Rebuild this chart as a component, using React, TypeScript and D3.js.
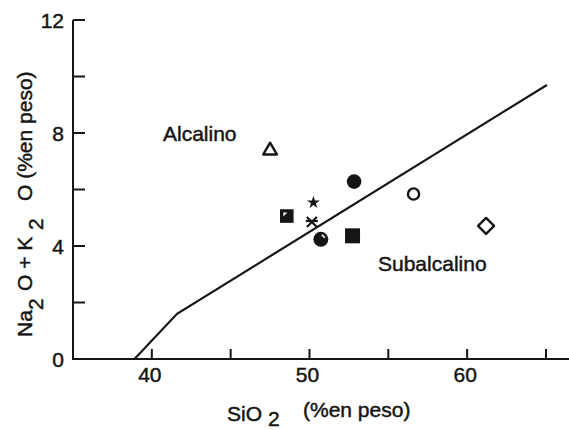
import React from "react";
import * as d3 from "d3";

const W = 569;
const H = 430;

// data
const xTicks = [40, 45, 50, 55, 60, 65];
const xTickLabels = [40, 50, 60];
const yTicks = [0, 2, 4, 6, 8, 10, 12];
const yTickLabels = [0, 4, 8, 12];

const markerTypes = [
  "triangleOpen",
  "circleFilled",
  "circleOpen",
  "star",
  "squareHalf",
  "cross",
  "circleHalf",
  "squareFilled",
  "diamondOpen",
];
const sio2 = [47.5, 52.83, 56.6, 50.25, 48.56, 50.15, 50.72, 52.73, 61.2];
const alk = [7.38, 6.28, 5.84, 5.54, 5.06, 4.85, 4.24, 4.36, 4.71];

const lineSiO2 = [38.9, 41.6, 65.06];
const lineAlk = [0, 1.6, 9.7];

const INK = "#151515";
const FONT = "'Liberation Sans', Arial, Helvetica, sans-serif";

function Marker({ type, cx, cy }: { type: string; cx: number; cy: number }) {
  const sw = 2.4;
  switch (type) {
    case "triangleOpen": {
      const p = d3.symbol(d3.symbolTriangle, 80)();
      return <path d={p || ""} transform={`translate(${cx},${cy})`} fill="none" stroke={INK} strokeWidth={sw} strokeLinejoin="round" />;
    }
    case "circleFilled":
      return <circle cx={cx} cy={cy} r={7.3} fill={INK} />;
    case "circleOpen":
      return <circle cx={cx} cy={cy} r={5.6} fill="none" stroke={INK} strokeWidth={sw} />;
    case "star": {
      const p = d3.symbol(d3.symbolStar, 52)();
      return <path d={p || ""} transform={`translate(${cx},${cy})`} fill={INK} />;
    }
    case "squareHalf":
      return (
        <g>
          <rect x={cx - 6.8} y={cy - 6.8} width={13.6} height={13.6} fill={INK} />
          <path d={`M${cx - 3.5},${cy - 3.5}L${cx + 0.5},${cy - 3.5}L${cx - 3.5},${cy + 0.5}Z`} fill="#fff" />
        </g>
      );
    case "cross":
      return (
        <g stroke={INK} strokeWidth={2.2}>
          <line x1={cx - 5} y1={cy - 5} x2={cx + 5} y2={cy + 5} />
          <line x1={cx + 5} y1={cy - 5} x2={cx - 5} y2={cy + 5} />
          <line x1={cx - 6} y1={cy - 1} x2={cx + 6} y2={cy - 1} />
        </g>
      );
    case "circleHalf":
      return (
        <g>
          <circle cx={cx} cy={cy} r={7.5} fill={INK} />
          <path d={`M${cx + 1},${cy - 4.5}L${cx + 4},${cy - 1.5}`} stroke="#fff" strokeWidth={1.6} />
        </g>
      );
    case "squareFilled":
      return <rect x={cx - 7.5} y={cy - 7.5} width={15} height={15} fill={INK} />;
    case "diamondOpen":
      return (
        <path
          d={`M${cx},${cy - 8}L${cx + 8},${cy}L${cx},${cy + 8}L${cx - 8},${cy}Z`}
          fill="none"
          stroke={INK}
          strokeWidth={sw}
          strokeLinejoin="round"
        />
      );
    default:
      return null;
  }
}

export default function App() {
  const x = d3.scaleLinear().domain([35, 66.46]).range([73, 569]);
  const y = d3.scaleLinear().domain([0, 12]).range([359, 20]);

  const linePts: [number, number][] = lineSiO2.map((v, i) => [v, lineAlk[i]]);
  const lineGen = d3
    .line<[number, number]>()
    .x((d) => x(d[0]))
    .y((d) => y(d[1]));

  const fs = 21;
  const textStyle = { stroke: INK, strokeWidth: 0.45 } as React.CSSProperties;

  return (
    <div style={{ position: "fixed", left: 0, top: 0, width: W, height: H, background: "#fff" }}>
      <svg width={W} height={H} style={{ display: "block" }} fontFamily={FONT}>
        <rect width={W} height={H} fill="#fff" />
        {/* axes */}
        <line x1={x(35)} y1={y(12)} x2={x(35)} y2={y(0)} stroke={INK} strokeWidth={2} />
        <line x1={x(35) - 1} y1={y(0)} x2={W} y2={y(0)} stroke={INK} strokeWidth={2} />
        {yTicks.map((t) => (
          <line key={"yt" + t} x1={x(35)} x2={x(35) + 12} y1={y(t)} y2={y(t)} stroke={INK} strokeWidth={2} />
        ))}
        {xTicks.map((t) => (
          <line key={"xt" + t} x1={x(t)} x2={x(t)} y1={y(0)} y2={y(0) - 10} stroke={INK} strokeWidth={2} />
        ))}
        {yTickLabels.map((t) => (
          <text key={"yl" + t} x={64} y={y(t)} dy="0.36em" textAnchor="end" fontSize={fs} fill={INK} style={textStyle}>
            {t}
          </text>
        ))}
        {xTickLabels.map((t) => (
          <text key={"xl" + t} x={x(t) - 2} y={382} textAnchor="middle" fontSize={fs} fill={INK} style={textStyle}>
            {t}
          </text>
        ))}

        {/* boundary line */}
        <path d={lineGen(linePts) || ""} fill="none" stroke={INK} strokeWidth={2.2} />

        {/* markers */}
        {markerTypes.map((m, i) => (
          <Marker key={m} type={m} cx={x(sio2[i])} cy={y(alk[i])} />
        ))}

        {/* field labels */}
        <text x={163} y={141} fontSize={fs} fill={INK} style={textStyle}>
          Alcalino
        </text>
        <text x={378} y={271} fontSize={fs} fill={INK} style={textStyle}>
          Subalcalino
        </text>

        {/* x-axis title */}
        <text y={421} fontSize={fs} fill={INK} style={textStyle}>
          <tspan x={227}>SiO</tspan>
          <tspan x={268} dy={5}>2</tspan>
        </text>
        <text x={303} y={417} fontSize={fs} fill={INK} style={textStyle}>
          (%en peso)
        </text>

        {/* y-axis title */}
        <g transform="translate(32,0) rotate(-90)">
          <text fontSize={fs} fill={INK} style={textStyle}>
            <tspan x={-337} y={0}>Na</tspan>
            <tspan x={-310} y={11}>2</tspan>
            <tspan x={-291} y={0}>O + K</tspan>
            <tspan x={-230} y={11}>2</tspan>
            <tspan x={-201} y={0}>O (%en peso)</tspan>
          </text>
        </g>
      </svg>
    </div>
  );
}
